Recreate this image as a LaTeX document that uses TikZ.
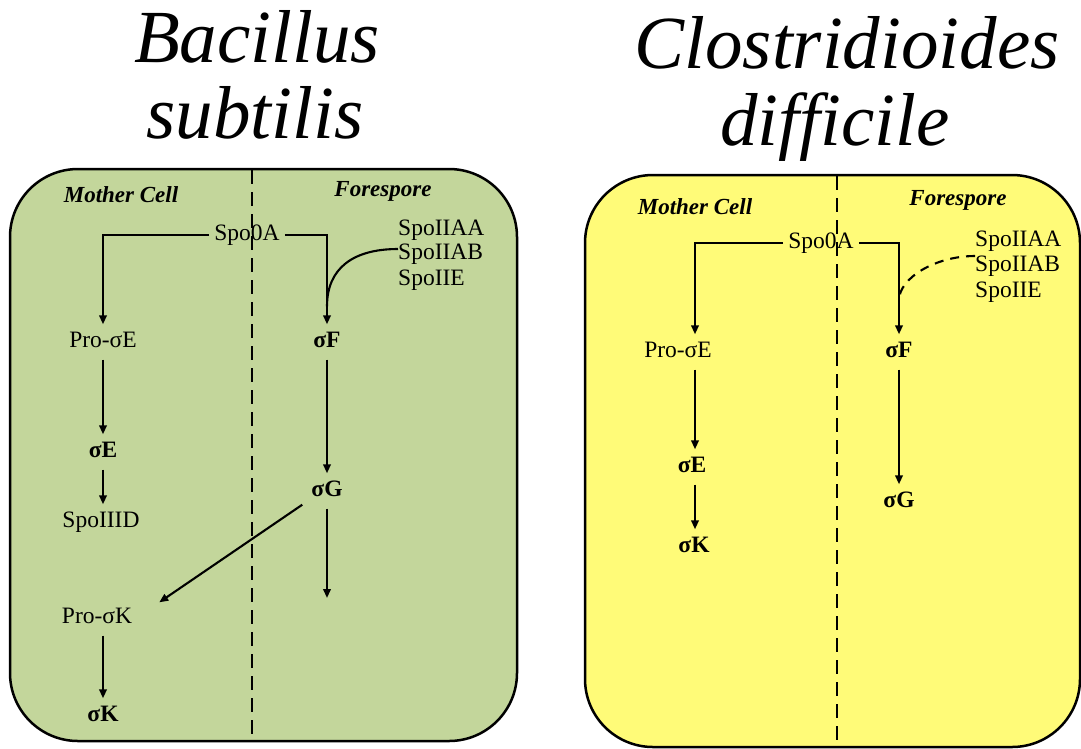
\documentclass[tikz,border=0pt]{standalone}
\usepackage{fontspec}
\setmainfont{Liberation Serif}
\usetikzlibrary{arrows.meta,calc}
\definecolor{cellgreen}{RGB}{195,214,155}
\definecolor{cellyellow}{RGB}{255,251,120}
\begin{document}
\begin{tikzpicture}[x=1pt,y=-1pt,
  boxline/.style={draw=black,line width=2.5pt,rounded corners=68pt},
  divider/.style={line width=2.5pt,dash pattern=on 14pt off 8pt},
  title/.style={font=\fontsize{75}{78}\selectfont\itshape,anchor=base,inner sep=0pt},
  region/.style={font=\fontsize{23}{25}\selectfont\bfseries\itshape,inner sep=0pt},
  lbl/.style={font=\fontsize{23.5}{25}\selectfont,inner xsep=5pt,inner ysep=8pt,text height=15pt,text depth=4pt},
  sig/.style={lbl,font=\fontsize{23.5}{25}\selectfont\bfseries},
  plain/.style={font=\fontsize{23.5}{25}\selectfont,inner sep=0pt,anchor=west},
  arr/.style={line width=2.1pt,-{Triangle[length=9pt,width=7.5pt]}},
  con/.style={line width=2.1pt},
  dcon/.style={line width=2.1pt,dash pattern=on 9pt off 7pt}]
\useasboundingbox (0,0) rectangle (1081,748);

% titles
\node[title] (t1a) at (257,62) {Bacillus};
\node[title] (t1b) at (255,138) {subtilis};
\node[title] (t2a) at (847,68) {Clostridioides};
\node[title] (t2b) at (835,145) {difficile};

% cells
\draw[boxline,fill=cellgreen] (10,169) rectangle (517,741);
\draw[boxline,fill=cellyellow] (585,175) rectangle (1080,747);
\coordinate (d1t) at (252,170);
\coordinate (d1b) at (252,741);
\coordinate (d2t) at (837,176);
\coordinate (d2b) at (837,747);
\draw[divider] (d1t) -- (d1b);
\draw[divider] (d2t) -- (d2b);

% ---------- Bacillus subtilis ----------
\node[region] (mc1) at (121,195) {Mother Cell};
\node[region] (fs1) at (383,191) {Forespore};
\node[lbl] (spo1) at (247,235) {Spo0A};
\node[plain] (a1) at (398,230) {SpoIIAA};
\node[plain] (b1) at (398,254) {SpoIIAB};
\node[plain] (e1) at (398,280) {SpoIIE};
\node[lbl] (pe1) at (103,342) {Pro-σE};
\node[sig] (sf1) at (327,342) {σF};
\node[sig] (se1) at (103,452) {σE};
\node[lbl] (s3d) at (101,522) {SpoIIID};
\node[sig] (sg1) at (327,491) {σG};
\node[lbl] (pk1) at (97,618) {Pro-σK};
\node[sig] (sk1) at (103,716) {σK};
\coordinate (g1end) at (327,598);

\draw[arr] (spo1.west) -| (pe1.north);
\draw[arr] (spo1.east) -| (sf1.north);
\draw[con] ([yshift=5pt]b1.west) .. controls +(-45,0) and +(0,-38) .. ([yshift=18pt]sf1.north);
\draw[arr] (pe1.south) -- (se1.north);
\draw[arr] (sf1.south) -- (sg1.north);
\draw[arr] (se1.south) -- (se1.south |- s3d.north);
\draw[arr] ([xshift=-4pt,yshift=4pt]sg1.south west) -- ([xshift=22pt,yshift=-2pt]pk1.north east);
\draw[arr] (sg1.south) -- (g1end);
\draw[arr] (pk1.south -| pe1.south) -- (sk1.north);

% ---------- Clostridioides difficile ----------
\node[region] (mc2) at (695,207) {Mother Cell};
\node[region] (fs2) at (958,200) {Forespore};
\node[lbl] (spo2) at (821,243) {Spo0A};
\node[plain] (a2) at (975,241) {SpoIIAA};
\node[plain] (b2) at (975,266) {SpoIIAB};
\node[plain] (e2) at (975,292) {SpoIIE};
\node[lbl] (pe2) at (678,352) {Pro-σE};
\node[sig] (sf2) at (899,352) {σF};
\node[sig] (se2) at (692,467) {σE};
\node[sig] (sk2) at (694,547) {σK};
\node[sig] (sg2) at (899,502) {σG};

\draw[arr] (spo2.west) -| ([xshift=17pt]pe2.north);
\draw[arr] (spo2.east) -| (sf2.north);
\draw[dcon] ([yshift=10pt]b2.west) .. controls +(-40,0) and +(0,-22) .. ([yshift=34pt]sf2.north);
\draw[arr] ([xshift=17pt]pe2.south) -- ([xshift=17pt]pe2.south |- se2.north);
\draw[arr] ([xshift=17pt]pe2.south |- se2.south) -- ([xshift=17pt]pe2.south |- sk2.north);
\draw[arr] (sf2.south) -- (sg2.north);
\end{tikzpicture}
\end{document}
